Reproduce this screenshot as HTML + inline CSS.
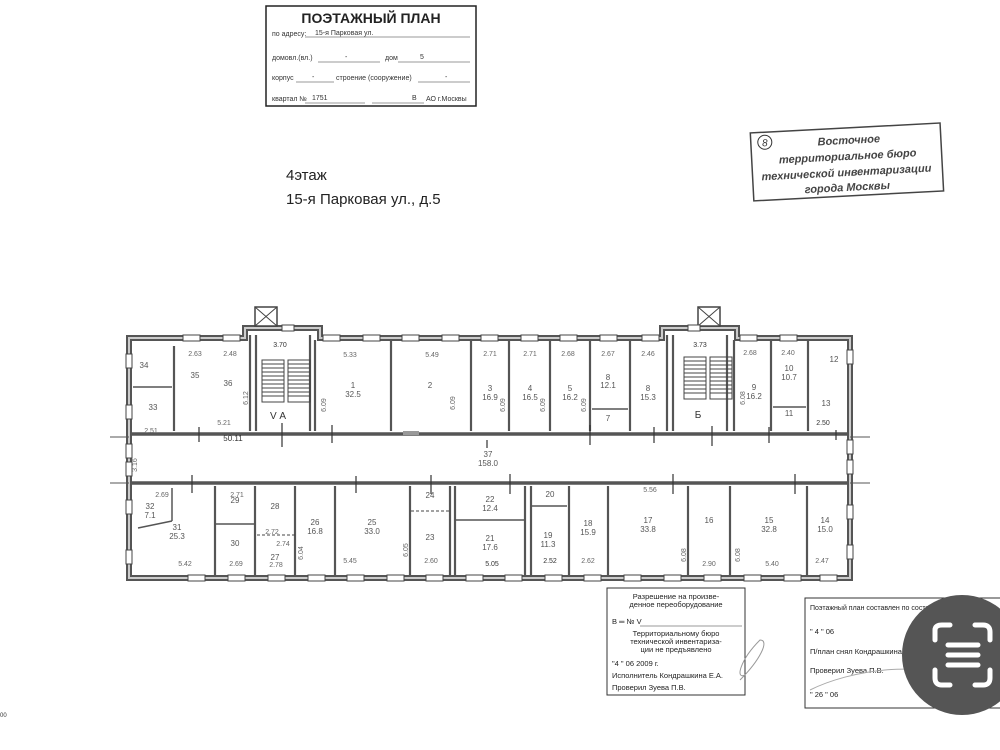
<!DOCTYPE html>
<html><head><meta charset="utf-8"><style>
html,body{margin:0;padding:0;background:#fff;}
svg{display:block;font-family:"Liberation Sans",sans-serif;}
.r{font-size:8px;fill:#555;text-anchor:middle}
.d{font-size:7px;fill:#666;text-anchor:middle}
</style></head><body>
<svg width="1000" height="750" viewBox="0 0 1000 750" xmlns="http://www.w3.org/2000/svg">
<rect width="1000" height="750" fill="#fff"/>
<rect x="266" y="6" width="210" height="100" fill="none" stroke="#222" stroke-width="1.5"/>
<text x="371" y="23" font-size="14" font-weight="bold" text-anchor="middle" fill="#222">ПОЭТАЖНЫЙ ПЛАН</text>
<g font-size="7" fill="#333">
<text x="272" y="36">по адресу:</text><text x="315" y="35">15-я Парковая ул.</text>
<line x1="305" y1="37" x2="470" y2="37" stroke="#333" stroke-width="0.6"/>
<text x="272" y="60">домовл.(вл.)</text><text x="345" y="59">-</text><text x="385" y="60">дом</text><text x="420" y="59">5</text>
<line x1="318" y1="62" x2="380" y2="62" stroke="#333" stroke-width="0.6"/><line x1="398" y1="62" x2="470" y2="62" stroke="#333" stroke-width="0.6"/>
<text x="272" y="80">корпус</text><text x="312" y="79">-</text><text x="336" y="80">строение (сооружение)</text><text x="445" y="79">-</text>
<line x1="296" y1="82" x2="334" y2="82" stroke="#333" stroke-width="0.6"/><line x1="418" y1="82" x2="470" y2="82" stroke="#333" stroke-width="0.6"/>
<text x="272" y="101">квартал №</text><text x="312" y="100">1751</text><text x="412" y="100">В</text><text x="426" y="101">АО г.Москвы</text>
<line x1="305" y1="103" x2="365" y2="103" stroke="#333" stroke-width="0.6"/><line x1="372" y1="103" x2="424" y2="103" stroke="#333" stroke-width="0.6"/>
</g>
<text x="286" y="180" font-size="15" fill="#222">4этаж</text>
<text x="286" y="204" font-size="15" fill="#222">15-я Парковая ул., д.5</text>
<g transform="rotate(-3 846 163)">
<rect x="752" y="128" width="190" height="68" fill="none" stroke="#444" stroke-width="1.5"/>
<circle cx="766" cy="138" r="7" fill="none" stroke="#333"/><text x="766" y="142" font-size="10" text-anchor="middle" font-style="italic" fill="#333">8</text>
<g font-size="11" font-style="italic" font-weight="bold" fill="#444" text-anchor="middle">
<text x="850" y="144">Восточное</text><text x="848" y="160">территориальное бюро</text><text x="846" y="176">технической инвентаризации</text><text x="846" y="191">города Москвы</text></g>
</g>
<g stroke="#555" fill="#fff">
<path d="M129,338 H245 V328 H320 V338 H662 V328 H737 V338 H850 V578 H129 Z" stroke-width="6"/>
</g>
<path d="M129,338 H245 V328 H320 V338 H662 V328 H737 V338 H850 V578 H129 Z" stroke="#ccc" stroke-width="2" fill="none"/>
<rect x="255" y="307" width="22" height="19" fill="#fff" stroke="#444" stroke-width="1.5"/><path d="M255,307 L277,326 M277,307 L255,326" stroke="#444"/>
<rect x="698" y="307" width="22" height="19" fill="#fff" stroke="#444" stroke-width="1.5"/><path d="M698,307 L720,326 M720,307 L698,326" stroke="#444"/>
<g stroke="#555" stroke-width="3.5">
<line x1="132" y1="434" x2="847" y2="434"/><line x1="132" y1="483" x2="847" y2="483"/>
</g>
<line x1="110" y1="437" x2="129" y2="437" stroke="#555"/><line x1="110" y1="483" x2="129" y2="483" stroke="#555"/>
<line x1="850" y1="437" x2="870" y2="437" stroke="#555"/><line x1="850" y1="483" x2="870" y2="483" stroke="#555"/>
<g stroke="#555" stroke-width="2.2">
<line x1="174" y1="346" x2="174" y2="431"/><line x1="250" y1="335" x2="250" y2="431"/>
<line x1="256" y1="335" x2="256" y2="431"/><line x1="310" y1="335" x2="310" y2="431"/>
<line x1="315" y1="340" x2="315" y2="431"/><line x1="391" y1="340" x2="391" y2="431"/>
<line x1="471" y1="340" x2="471" y2="431"/><line x1="509" y1="340" x2="509" y2="431"/>
<line x1="550" y1="340" x2="550" y2="431"/><line x1="590" y1="340" x2="590" y2="431"/>
<line x1="630" y1="340" x2="630" y2="431"/><line x1="667" y1="335" x2="667" y2="431"/>
<line x1="673" y1="335" x2="673" y2="431"/><line x1="727" y1="335" x2="727" y2="431"/>
<line x1="734" y1="340" x2="734" y2="431"/><line x1="771" y1="340" x2="771" y2="431"/>
<line x1="808" y1="340" x2="808" y2="431"/>
<line x1="592" y1="409" x2="628" y2="409" stroke-width="1.5"/><line x1="773" y1="407" x2="806" y2="407" stroke-width="1.5"/>
<line x1="133" y1="387" x2="172" y2="387" stroke-width="1.5"/>
</g>
<g stroke="#555" stroke-width="2.2">
<line x1="215" y1="486" x2="215" y2="575"/><line x1="255" y1="486" x2="255" y2="575"/>
<line x1="295" y1="486" x2="295" y2="575"/><line x1="335" y1="486" x2="335" y2="575"/>
<line x1="410" y1="486" x2="410" y2="575"/><line x1="450" y1="486" x2="450" y2="575"/>
<line x1="455" y1="486" x2="455" y2="575"/><line x1="525" y1="486" x2="525" y2="575"/>
<line x1="531" y1="486" x2="531" y2="575"/><line x1="569" y1="486" x2="569" y2="575"/>
<line x1="608" y1="486" x2="608" y2="575"/><line x1="688" y1="486" x2="688" y2="575"/>
<line x1="730" y1="486" x2="730" y2="575"/><line x1="807" y1="486" x2="807" y2="575"/>
<line x1="215" y1="524" x2="255" y2="524" stroke-width="1.5"/><line x1="455" y1="520" x2="525" y2="520" stroke-width="1.5"/>
<line x1="531" y1="506" x2="567" y2="506" stroke-width="1.5"/>
<line x1="138" y1="528" x2="172" y2="521" stroke-width="1.5"/><line x1="172" y1="488" x2="172" y2="521" stroke-width="1.5"/>
</g>
<line x1="411" y1="511" x2="450" y2="511" stroke="#444" stroke-dasharray="3,2"/>
<line x1="257" y1="535" x2="295" y2="535" stroke="#444" stroke-dasharray="3,2"/>
<g stroke="#444" stroke-width="1" fill="none">
<rect x="262" y="360" width="22" height="42"/><rect x="288" y="360" width="22" height="42"/>
<rect x="684" y="357" width="22" height="42"/><rect x="710" y="357" width="22" height="42"/>
<path d="M262,364H284M262,368H284M262,372H284M262,376H284M262,380H284M262,384H284M262,388H284M262,392H284M262,396H284
M288,364H310M288,368H310M288,372H310M288,376H310M288,380H310M288,384H310M288,388H310M288,392H310M288,396H310
M684,361H706M684,365H706M684,369H706M684,373H706M684,377H706M684,381H706M684,385H706M684,389H706M684,393H706
M710,361H732M710,365H732M710,369H732M710,373H732M710,377H732M710,381H732M710,385H732M710,389H732M710,393H732"/>
</g>
<g fill="#fff" stroke="#444" stroke-width="1">
<rect x="183" y="335" width="17" height="6"/><rect x="223" y="335" width="17" height="6"/>
<rect x="323" y="335" width="17" height="6"/><rect x="363" y="335" width="17" height="6"/>
<rect x="402" y="335" width="17" height="6"/><rect x="442" y="335" width="17" height="6"/>
<rect x="481" y="335" width="17" height="6"/><rect x="521" y="335" width="17" height="6"/>
<rect x="560" y="335" width="17" height="6"/><rect x="600" y="335" width="17" height="6"/>
<rect x="642" y="335" width="17" height="6"/><rect x="740" y="335" width="17" height="6"/>
<rect x="780" y="335" width="17" height="6"/>
<rect x="282" y="325" width="12" height="6"/><rect x="688" y="325" width="12" height="6"/>
<rect x="188" y="575" width="17" height="6"/><rect x="228" y="575" width="17" height="6"/>
<rect x="268" y="575" width="17" height="6"/><rect x="308" y="575" width="17" height="6"/>
<rect x="347" y="575" width="17" height="6"/><rect x="387" y="575" width="17" height="6"/>
<rect x="426" y="575" width="17" height="6"/><rect x="466" y="575" width="17" height="6"/>
<rect x="505" y="575" width="17" height="6"/><rect x="545" y="575" width="17" height="6"/>
<rect x="584" y="575" width="17" height="6"/><rect x="624" y="575" width="17" height="6"/>
<rect x="664" y="575" width="17" height="6"/><rect x="704" y="575" width="17" height="6"/>
<rect x="744" y="575" width="17" height="6"/><rect x="784" y="575" width="17" height="6"/>
<rect x="820" y="575" width="17" height="6"/>
<rect x="126" y="354" width="6" height="14"/><rect x="126" y="405" width="6" height="14"/>
<rect x="126" y="444" width="6" height="14"/><rect x="126" y="462" width="6" height="14"/>
<rect x="126" y="500" width="6" height="14"/><rect x="126" y="550" width="6" height="14"/>
<rect x="847" y="350" width="6" height="14"/><rect x="847" y="440" width="6" height="14"/>
<rect x="847" y="460" width="6" height="14"/><rect x="847" y="505" width="6" height="14"/>
<rect x="847" y="545" width="6" height="14"/>
</g>
<g stroke="#333" stroke-width="1.2">
<path d="M199,427V442M282,423V447M332,425V443M487,440V448M590,425V445M654,427V443M712,426V446M769,427V443M192,475V493M356,476V493M431,475V494M510,474V494M673,474V494M795,474V494M836,430V440"/>
</g>
<rect x="403" y="431" width="16" height="4" fill="#999"/>
<g class="r">
<text x="144" y="368">34</text><text x="153" y="410">33</text><text x="195" y="378">35</text><text x="228" y="386">36</text>
<text x="278" y="419" font-size="10" fill="#333">V А</text>
<text x="353" y="388">1</text><text x="353" y="397">32.5</text><text x="430" y="388">2</text>
<text x="490" y="391">3</text><text x="490" y="400">16.9</text><text x="530" y="391">4</text><text x="530" y="400">16.5</text>
<text x="570" y="391">5</text><text x="570" y="400">16.2</text><text x="608" y="380">8</text><text x="608" y="388">12.1</text>
<text x="608" y="421">7</text><text x="648" y="391">8</text><text x="648" y="400">15.3</text>
<text x="698" y="418" font-size="10" fill="#333">Б</text><text x="754" y="390">9</text><text x="754" y="399">16.2</text>
<text x="789" y="371">10</text><text x="789" y="380">10.7</text><text x="789" y="416">11</text>
<text x="834" y="362">12</text><text x="826" y="406">13</text>
<text x="488" y="457">37</text><text x="488" y="466">158.0</text>
<text x="150" y="509">32</text><text x="150" y="518">7.1</text><text x="177" y="530">31</text><text x="177" y="539">25.3</text>
<text x="235" y="503">29</text><text x="235" y="546">30</text><text x="275" y="509">28</text><text x="275" y="560">27</text>
<text x="315" y="525">26</text><text x="315" y="534">16.8</text><text x="372" y="525">25</text><text x="372" y="534">33.0</text>
<text x="430" y="498">24</text><text x="430" y="540">23</text>
<text x="490" y="502">22</text><text x="490" y="511">12.4</text><text x="490" y="541">21</text><text x="490" y="550">17.6</text>
<text x="550" y="497">20</text><text x="548" y="538">19</text><text x="548" y="547">11.3</text>
<text x="588" y="526">18</text><text x="588" y="535">15.9</text><text x="648" y="523">17</text><text x="648" y="532">33.8</text>
<text x="709" y="523">16</text><text x="769" y="523">15</text><text x="769" y="532">32.8</text>
<text x="825" y="523">14</text><text x="825" y="532">15.0</text>
</g>
<g class="d">
<text x="195" y="356">2.63</text><text x="230" y="356">2.48</text><text x="224" y="425">5.21</text><text x="151" y="433">2.51</text>
<text x="233" y="441" font-size="8" fill="#333">50.11</text><text x="280" y="347" fill="#333">3.70</text>
<text x="350" y="357">5.33</text><text x="432" y="357">5.49</text><text x="490" y="356">2.71</text><text x="530" y="356">2.71</text>
<text x="568" y="356">2.68</text><text x="608" y="356">2.67</text><text x="648" y="356">2.46</text><text x="700" y="347" fill="#333">3.73</text>
<text x="750" y="355">2.68</text><text x="788" y="355">2.40</text><text x="823" y="425" fill="#333">2.50</text>
<text x="162" y="497">2.69</text><text x="237" y="497">2.71</text><text x="272" y="534">2.72</text><text x="283" y="546">2.74</text>
<text x="185" y="566">5.42</text><text x="236" y="566">2.69</text><text x="276" y="567">2.78</text><text x="350" y="563">5.45</text>
<text x="431" y="563">2.60</text><text x="492" y="566" fill="#333">5.05</text><text x="550" y="563" fill="#333">2.52</text>
<text x="588" y="563">2.62</text><text x="650" y="492">5.56</text><text x="709" y="566">2.90</text><text x="772" y="566">5.40</text><text x="822" y="563">2.47</text>
</g>
<g class="d">
<text transform="translate(326,405) rotate(-90)">6.09</text><text transform="translate(455,403) rotate(-90)">6.09</text>
<text transform="translate(505,405) rotate(-90)">6.09</text><text transform="translate(545,405) rotate(-90)">6.09</text>
<text transform="translate(586,405) rotate(-90)">6.09</text><text transform="translate(248,398) rotate(-90)">6.12</text>
<text transform="translate(137,465) rotate(-90)">3.16</text><text transform="translate(303,553) rotate(-90)">6.04</text>
<text transform="translate(408,550) rotate(-90)">6.05</text><text transform="translate(686,555) rotate(-90)">6.08</text>
<text transform="translate(740,555) rotate(-90)">6.08</text><text transform="translate(745,398) rotate(-90)">6.08</text>
</g>
<g font-size="7.5" fill="#222">
<rect x="607" y="588" width="138" height="107" fill="none" stroke="#333"/>
<text x="676" y="599" text-anchor="middle">Разрешение на произве-</text>
<text x="676" y="607" text-anchor="middle">денное переоборудование</text>
<text x="612" y="624">В ═ № V</text><line x1="640" y1="626" x2="742" y2="626" stroke="#333" stroke-width="0.5"/>
<text x="676" y="636" text-anchor="middle">Территориальному бюро</text>
<text x="676" y="644" text-anchor="middle">технической инвентариза-</text>
<text x="676" y="652" text-anchor="middle">ции не предъявлено</text>
<text x="612" y="666">"4     " 06           2009    г.</text>
<text x="612" y="678">Исполнитель Кондрашкина Е.А.</text>
<text x="612" y="690">Проверил Зуева П.В.</text>
<rect x="805" y="598" width="200" height="110" fill="none" stroke="#333"/>
<text x="810" y="610" font-size="7">Поэтажный план составлен по состоянию на</text>
<text x="810" y="634">"   4   "      06</text>
<text x="810" y="654">П/план снял  Кондрашкина</text>
<text x="810" y="673">Проверил  Зуева П.В.</text>
<text x="810" y="697">"   26   "      06</text>
</g>
<path d="M740,680 C760,660 770,640 760,640 C740,660 735,680 745,675" stroke="#999" fill="none"/>
<path d="M810,690 C850,670 920,660 960,680" stroke="#aaa" fill="none"/>
<circle cx="962" cy="655" r="60" fill="#555"/>
<g stroke="#fff" stroke-width="5" fill="none" stroke-linecap="round">
<path d="M935,640 V630 Q935,625 942,625 H950 M975,625 H983 Q990,625 990,632 V640 M990,670 V678 Q990,685 983,685 H975 M950,685 H942 Q935,685 935,678 V670"/>
<path d="M948,645 H978 M948,655 H978 M948,665 H978"/>
</g>
<text x="0" y="717" font-size="6" fill="#333">00</text>
</svg>
</body></html>
